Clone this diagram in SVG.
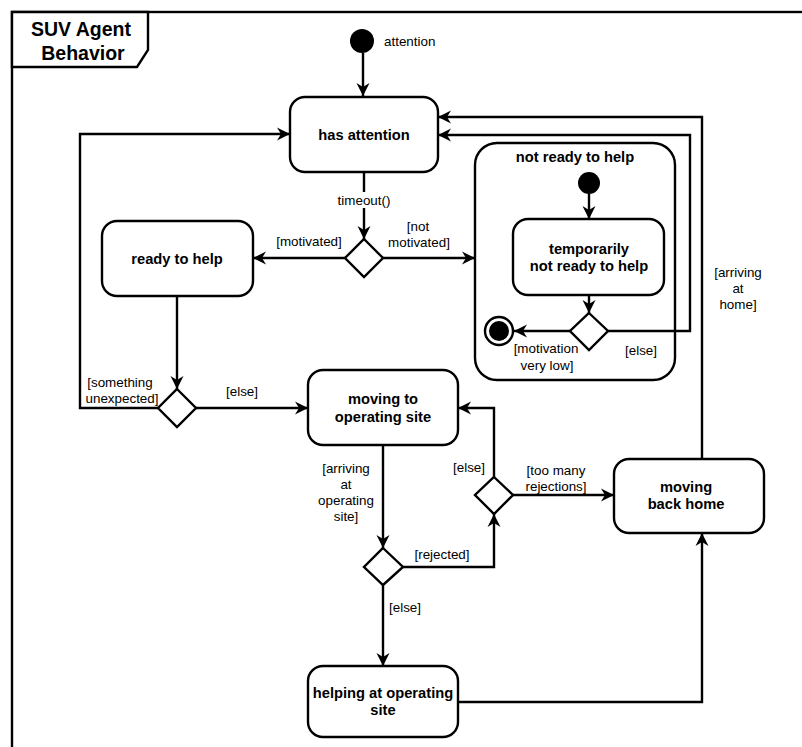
<svg xmlns="http://www.w3.org/2000/svg" width="802" height="747" viewBox="0 0 802 747">
<style>
.st{fill:#fff;stroke:#000;stroke-width:2.4}
.ln{fill:none;stroke:#000;stroke-width:2.4}
.b{font-family:"Liberation Sans",Arial,sans-serif;font-weight:bold;font-size:14.7px;text-anchor:middle;fill:#000}
.r{font-family:"Liberation Sans",Arial,sans-serif;font-size:13.4px;text-anchor:middle;fill:#000}
.t{font-family:"Liberation Sans",Arial,sans-serif;font-weight:bold;font-size:19.5px;text-anchor:middle;fill:#000}
</style>
<defs>
<marker id="arr" markerUnits="userSpaceOnUse" markerWidth="16" markerHeight="16" viewBox="-14 -8 16 16" refX="0" refY="0" orient="auto">
<path d="M0,0 L-13,-6.5 L-9,0 L-13,6.5 Z" fill="#000"/>
</marker>
</defs>
<rect width="802" height="747" fill="#fff"/>
<g id="frame">
<rect x="12" y="12" width="800" height="760" fill="none" stroke="#000" stroke-width="2.4"/>
<path d="M12,12 H148 V50 L137,67 H12 Z" class="st"/>
<text class="t" x="81" y="36">SUV Agent</text>
<text class="t" x="83" y="60">Behavior</text>
</g>
<g id="initial">
<circle cx="362" cy="41" r="12" fill="#000"/>
<text class="r" x="384" y="46" style="text-anchor:start">attention</text>
</g>
<g id="has-attention">
<rect class="st" x="290" y="97" width="148" height="75" rx="15"/>
<text class="b" x="364" y="140">has attention</text>
</g>
<g id="decision-motivation">
<path class="st" d="M364,239 L383,258 L364,277 L345,258 Z"/>
</g>
<g id="ready-to-help">
<rect class="st" x="102" y="221" width="151" height="75" rx="15"/>
<text class="b" x="177" y="264">ready to help</text>
</g>
<g id="decision-unexpected">
<path class="st" d="M177,389 L196,408 L177,427 L158,408 Z"/>
</g>
<g id="not-ready-to-help">
<rect class="st" x="475" y="143" width="200" height="237" rx="22"/>
<text class="b" x="575" y="162">not ready to help</text>
<circle cx="589" cy="183" r="11" fill="#000"/>
</g>
<g id="temporarily-not-ready">
<rect class="st" x="513" y="219" width="151" height="76" rx="15"/>
<text class="b" x="589" y="254">temporarily</text>
<text class="b" x="589" y="271">not ready to help</text>
</g>
<g id="decision-low">
<path class="st" d="M589,313 L608,331 L589,350 L570,331 Z"/>
</g>
<g id="final">
<circle cx="499" cy="331" r="14" fill="#fff" stroke="#000" stroke-width="2.4"/>
<circle cx="499" cy="331" r="10" fill="#000"/>
</g>
<g id="moving-to-site">
<rect class="st" x="308" y="370" width="150" height="75" rx="15"/>
<text class="b" x="383" y="404">moving to</text>
<text class="b" x="383" y="422">operating site</text>
</g>
<g id="decision-arrive">
<path class="st" d="M383,548 L403,567 L383,585 L364,567 Z"/>
</g>
<g id="decision-rejections">
<path class="st" d="M494,477 L513,495 L494,514 L475,495 Z"/>
</g>
<g id="moving-back-home">
<rect class="st" x="614" y="459" width="150" height="74" rx="15"/>
<text class="b" x="686" y="492">moving</text>
<text class="b" x="686" y="509">back home</text>
</g>
<g id="helping">
<rect class="st" x="308" y="666" width="150" height="71" rx="15"/>
<text class="b" x="383" y="698">helping at operating</text>
<text class="b" x="383" y="715">site</text>
</g>
<g id="connectors">
<path class="ln" d="M363,53 V96" marker-end="url(#arr)"/>
<path class="ln" d="M364,172 V239" marker-end="url(#arr)"/>
<path class="ln" d="M345,258 H253" marker-end="url(#arr)"/>
<path class="ln" d="M383,258 H475" marker-end="url(#arr)"/>
<path class="ln" d="M177,296 V389" marker-end="url(#arr)"/>
<path class="ln" d="M158,408 H80 V134 H290" marker-end="url(#arr)"/>
<path class="ln" d="M196,408 H308" marker-end="url(#arr)"/>
<path class="ln" d="M383,445 V548" marker-end="url(#arr)"/>
<path class="ln" d="M403,567 H494 V514" marker-end="url(#arr)"/>
<path class="ln" d="M494,477 V408 H458" marker-end="url(#arr)"/>
<path class="ln" d="M513,495 H614" marker-end="url(#arr)"/>
<path class="ln" d="M383,585 V666" marker-end="url(#arr)"/>
<path class="ln" d="M458,702 H702 V533" marker-end="url(#arr)"/>
<path class="ln" d="M702,459 V117 H438" marker-end="url(#arr)"/>
<path class="ln" d="M589,194 V219" marker-end="url(#arr)"/>
<path class="ln" d="M589,295 V313" marker-end="url(#arr)"/>
<path class="ln" d="M570,331 H514" marker-end="url(#arr)"/>
<path class="ln" d="M608,331 H690 V135 H438" marker-end="url(#arr)"/>
<rect x="336" y="192" width="56" height="16" fill="#fff"/>
<text class="r" x="364" y="205">timeout()</text>
<text class="r" x="309" y="246">[motivated]</text>
<text class="r" x="418" y="231">[not</text>
<text class="r" x="419" y="247">motivated]</text>
<text class="r" x="120" y="387">[something</text>
<text class="r" x="122" y="403">unexpected]</text>
<text class="r" x="242" y="396">[else]</text>
<text class="r" x="546" y="353">[motivation</text>
<text class="r" x="547" y="370">very low]</text>
<text class="r" x="641" y="355">[else]</text>
<text class="r" x="738" y="277">[arriving</text>
<text class="r" x="738" y="293">at</text>
<text class="r" x="738" y="309">home]</text>
<text class="r" x="346" y="473">[arriving</text>
<text class="r" x="346" y="489">at</text>
<text class="r" x="346" y="505">operating</text>
<text class="r" x="346" y="521">site]</text>
<text class="r" x="469" y="472">[else]</text>
<text class="r" x="556" y="475">[too many</text>
<text class="r" x="556" y="491">rejections]</text>
<text class="r" x="442" y="559">[rejected]</text>
<text class="r" x="405" y="612">[else]</text>
</g>
</svg>
